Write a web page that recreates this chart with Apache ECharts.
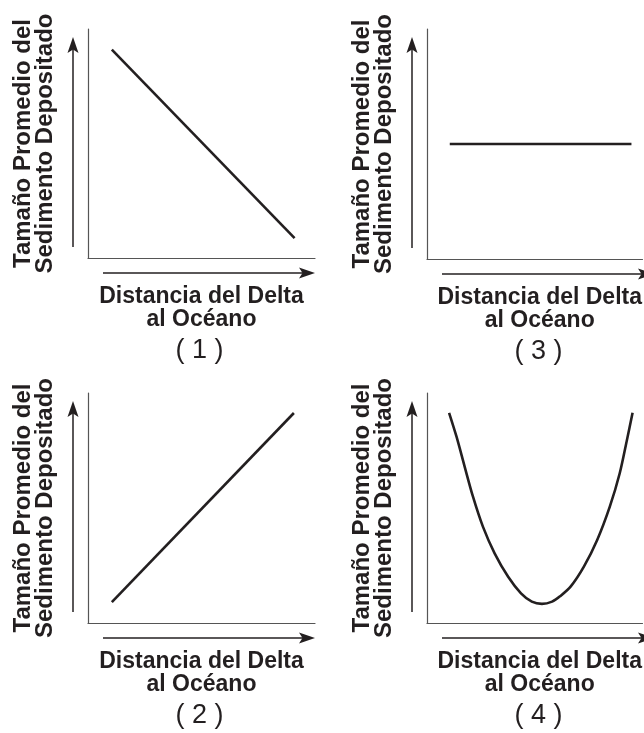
<!DOCTYPE html>
<html>
<head>
<meta charset="utf-8">
<script src="https://cdn.jsdelivr.net/npm/echarts@6/dist/echarts.min.js"></script>
<style>
  html, body { margin: 0; padding: 0; background: #fff; }
  #chart { width: 644px; height: 733px; }
</style>
</head>
<body>
<div id="chart"></div>
<script>
// Axis titles and panel captions
const xAxisTitle = 'Distancia del Delta\nal Océano';
const yAxisTitle = 'Tamaño Promedio del\nSedimento Depositado';
const panelCaptions = ['( 1 )', '( 3 )', '( 2 )', '( 4 )'];

// Curves: distance (0-100) vs. average sediment size (0-100)
const panel1X = [10.5, 91];
const panel1Y = [91, 8.7];
const panel3X = [10.1, 90.7];
const panel3Y = [50, 50];
const panel2X = [10.5, 90.7];
const panel2Y = [9.1, 91.3];
const panel4X = [9.8, 13.1, 16.7, 20.4, 24.8, 30.0, 36.0, 41.7, 46.5, 51.0, 55.5, 59.0, 63.7, 69.6, 75.5, 81.1, 85.5, 88.7, 91.2];
const panel4Y = [91.4, 81.0, 68.0, 54.9, 41.9, 30.3, 20.1, 12.9, 9.3, 8.3, 9.3, 11.6, 15.8, 24.5, 36.1, 50.6, 65.1, 79.6, 91.4];

const panelSeries = [
  [panel1X, panel1Y],
  [panel3X, panel3Y],
  [panel2X, panel2Y],
  [panel4X, panel4Y]
];

// Layout of the four plotting areas. The full axis is 227px long; the
// right-hand pair is cut by the page edge, so their x range is shortened.
const pageWidth = 644;
const fullWidth = 227;
const panels = [
  { left: 88,  top: 29,  height: 229 },
  { left: 427, top: 29,  height: 230 },
  { left: 88,  top: 393, height: 230 },
  { left: 427, top: 393, height: 230 }
];
panels.forEach(p => {
  p.width = Math.min(fullWidth, pageWidth - p.left);
  p.xMax = 100 * p.width / fullWidth;
  p.cut = fullWidth - p.width;
});

const ink = '#231f20';
const boldFont = '"Liberation Sans", Arial, Helvetica, sans-serif';

const grids = panels.map(p => ({ left: p.left, top: p.top, width: p.width, height: p.height }));

const xAxes = panels.map((p, i) => ({
  type: 'value', gridIndex: i, min: 0, max: p.xMax,
  axisLine: { show: true, onZero: false, lineStyle: { color: '#555', width: 1.2 } },
  axisTick: { show: false }, axisLabel: { show: false }, splitLine: { show: false },
  name: xAxisTitle, nameLocation: 'middle', nameGap: 27,
  nameTextStyle: { fontFamily: boldFont, fontWeight: 'bold', fontSize: 23, lineHeight: 23, color: ink,
                   padding: [0, 0, 0, p.cut] }
}));

const yAxes = panels.map((p, i) => ({
  type: 'value', gridIndex: i, min: 0, max: 100,
  axisLine: { show: true, onZero: false, lineStyle: { color: '#555', width: 1.2 } },
  axisTick: { show: false }, axisLabel: { show: false }, splitLine: { show: false },
  name: yAxisTitle, nameLocation: 'middle', nameGap: 32, nameRotate: 90,
  nameTextStyle: { fontFamily: boldFont, fontWeight: 'bold', fontSize: 24, lineHeight: 22, color: ink }
}));

const series = panelSeries.map(([xs, ys], i) => ({
  type: 'line', xAxisIndex: i, yAxisIndex: i,
  data: xs.map((x, k) => [x, ys[k]]),
  showSymbol: false, smooth: i === 3 ? 0.3 : false,
  lineStyle: { color: ink, width: 2.6 },
  silent: true, animation: false
}));

// Direction arrows beside each pair of axes
function arrowShapes(p) {
  const axisY = p.top + p.height;
  const out = [];
  const ax = { y: axisY + 15, x1: p.left + 15, x2: p.left + fullWidth };
  out.push({ type: 'line', shape: { x1: ax.x1, y1: ax.y, x2: ax.x2 - 10, y2: ax.y },
             style: { stroke: ink, lineWidth: 1.5 } });
  out.push({ type: 'polygon', shape: { points: [[ax.x2, ax.y], [ax.x2 - 16, ax.y - 5.5], [ax.x2 - 12.5, ax.y], [ax.x2 - 16, ax.y + 5.5]] },
             style: { fill: ink } });
  const ay = { x: p.left - 15, y1: axisY - 11, y2: p.top + 8 };
  out.push({ type: 'line', shape: { x1: ay.x, y1: ay.y1, x2: ay.x, y2: ay.y2 + 10 },
             style: { stroke: ink, lineWidth: 1.5 } });
  out.push({ type: 'polygon', shape: { points: [[ay.x, ay.y2], [ay.x - 5.5, ay.y2 + 16], [ay.x, ay.y2 + 12.5], [ay.x + 5.5, ay.y2 + 16]] },
             style: { fill: ink } });
  return out;
}

const graphics = [];
panels.forEach((p, i) => {
  graphics.push(...arrowShapes(p));
  graphics.push({
    type: 'text',
    x: p.left + fullWidth / 2 - 2, y: p.top + p.height + 93,
    style: { text: panelCaptions[i], fill: ink, font: '27px "Liberation Sans", Arial, sans-serif',
             textAlign: 'center', textVerticalAlign: 'middle' }
  });
});

const chart = echarts.init(document.getElementById('chart'), null, { renderer: 'canvas' });
chart.setOption({
  backgroundColor: '#ffffff',
  animation: false,
  grid: grids,
  xAxis: xAxes,
  yAxis: yAxes,
  series: series,
  graphic: graphics
});
</script>
</body>
</html>
